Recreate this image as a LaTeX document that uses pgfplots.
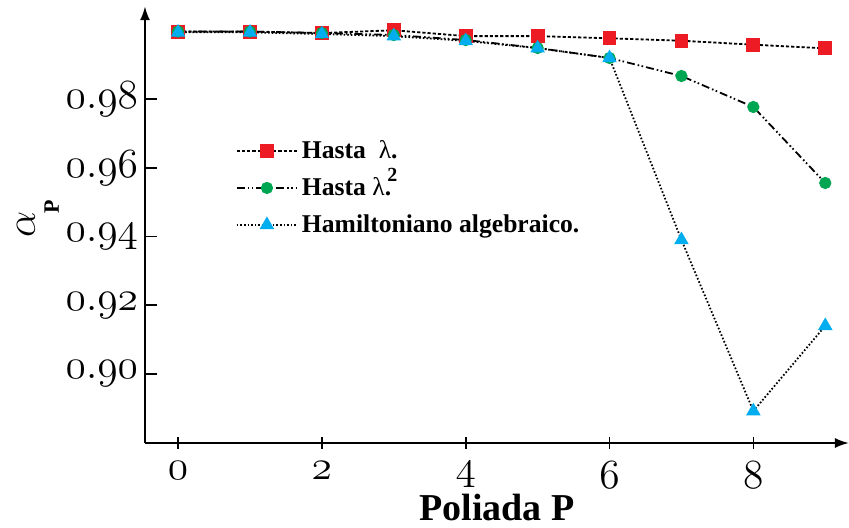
\documentclass[border=0pt]{standalone}
\usepackage{pgfplots}
\pgfplotsset{compat=1.18}
\usetikzlibrary{arrows.meta}
\usepackage{fontspec}
\setmainfont{Liberation Serif}
\definecolor{cred}{RGB}{237,28,36}
\definecolor{cgreen}{RGB}{0,166,81}
\definecolor{cblue}{RGB}{0,174,239}
\begin{document}
\begin{tikzpicture}
\path[use as bounding box] (-72.5pt,-42pt) rectangle (352pt,221.5pt);
\begin{axis}[
  scale only axis, width=352pt, height=218.4pt,
  xmin=-0.46, xmax=9.33, ymin=0.8799, ymax=1.007,
  axis lines=left,
  axis line style={line width=1pt, -{Latex[length=7pt,width=5pt]}},
  xtick={0,2,4,6,8},
  xticklabels={$\mathnormal{0}$,$\mathnormal{2}$,$\mathnormal{4}$,$\mathnormal{6}$,$\mathnormal{8}$},
  ytick={0.90,0.92,0.94,0.96,0.98},
  yticklabels={$\mathnormal{0.90}$,$\mathnormal{0.92}$,$\mathnormal{0.94}$,$\mathnormal{0.96}$,$\mathnormal{0.98}$},
  tick label style={font=\fontsize{22}{24}\selectfont},
  xticklabel style={yshift=-6pt},
  major tick length=6pt, tick align=inside,
  xtick style={yshift=-3pt},
  tick style={line width=0.8pt, black},
  xlabel={\textbf{Poliada P}},
  xlabel style={font=\fontsize{19}{21}\selectfont, at={(axis description cs:0.5,-0.148)}, anchor=center},
  ylabel={{\fontsize{20}{22}\selectfont$\alpha$}\kern-1pt\raisebox{-12pt}{\fontsize{11}{13}\selectfont\bfseries P}},
  ylabel style={at={(axis description cs:-0.152,0.513)}, anchor=center},
  legend cell align=left,
  legend style={draw=none, fill=none, font=\bfseries\fontsize{12.8}{15}\selectfont,
    at={(axis description cs:0.12,0.712)}, anchor=north west, row sep=4pt},
  legend image code/.code={\draw[mark repeat=2,mark phase=2] plot coordinates {(0cm,0cm)(0.53cm,0cm)(1.06cm,0cm)};},
]
\addplot[black, line width=0.9pt, dash pattern=on 1.6pt off 1pt, mark=square*, mark size=3pt,
  mark options={solid, draw=cred, fill=cred}] coordinates {
(0,0.99960) (1,0.99960) (2,0.99920) (3,1.00000) (4,0.99830) (5,0.99830) (6,0.99766) (7,0.99696) (8,0.99580) (9,0.99475)};
\addlegendentry{Hasta \ {\mdseries λ}.}
\addplot[black, line width=0.9pt, dash pattern=on 4pt off 1.5pt on 0.8pt off 1.2pt on 0.8pt off 1.5pt, mark=*, mark size=2.6pt,
  mark options={solid, draw=cgreen, fill=cgreen}] coordinates {
(0,0.99964) (1,0.99964) (2,0.99920) (3,0.99862) (4,0.99716) (5,0.99484) (6,0.99193) (7,0.98669) (8,0.97767) (9,0.95556)};
\addlegendentry{Hasta {\mdseries λ}.\kern-0.15em\smash{\raisebox{1.2ex}{\fontsize{10}{12}\selectfont 2}}}
\addplot[black, line width=0.9pt, dash pattern=on 0.8pt off 1pt, mark=triangle*, mark size=3.3pt,
  mark options={solid, draw=cblue, fill=cblue}] coordinates {
(0,0.99940) (1,0.99940) (2,0.99890) (3,0.99830) (4,0.99690) (5,0.99480) (6,0.99193) (7,0.93900) (8,0.88920) (9,0.91400)};
\addlegendentry{Hamiltoniano algebraico.}
\end{axis}
\end{tikzpicture}
\end{document}
